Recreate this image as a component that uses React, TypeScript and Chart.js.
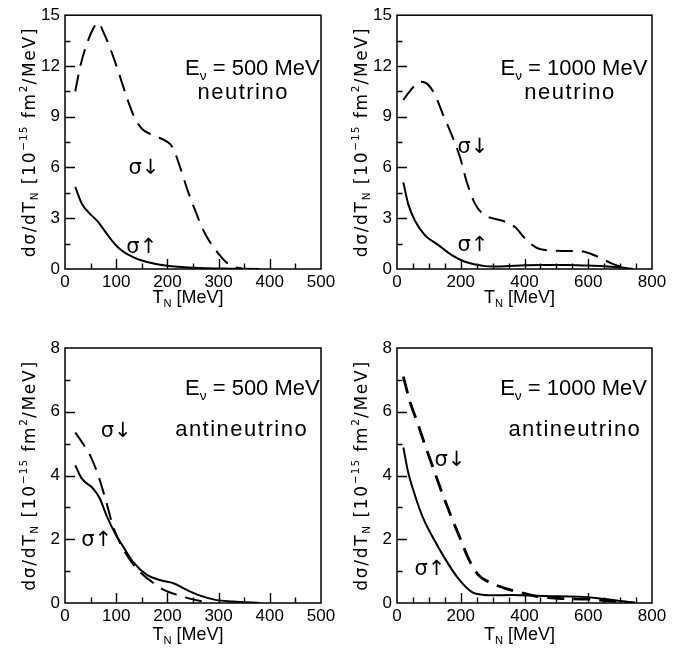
import React, { useEffect, useRef } from 'react';
import { Chart, registerables } from 'chart.js';

Chart.register(...registerables);

const FONT = "'Liberation Sans', Arial, Helvetica, sans-serif";
const WIDE_FONT = "'DejaVu Sans', 'Liberation Sans', Arial, sans-serif";

// ---------------- data (T_N in MeV, dσ/dT_N in 10^-15 fm^2/MeV) ----------------
// Neutrino, E = 500 MeV
const nu500DownT = [20, 30, 45, 60, 65, 75, 90, 105, 120, 135, 150, 165, 180, 195, 210, 225, 240, 255, 270, 285, 300, 315, 330, 345];
const nu500Down = [10.5, 12.0, 13.5, 14.45, 14.55, 14.0, 12.9, 11.6, 10.2, 9.0, 8.3, 8.0, 7.8, 7.6, 7.2, 6.0, 4.6, 3.4, 2.3, 1.5, 0.9, 0.4, 0.12, 0.03];
const nu500UpT = [20, 33, 46, 65, 81, 98, 114, 130, 147, 165, 180, 200, 220, 240, 260, 290, 320, 350, 380];
const nu500Up = [4.85, 3.85, 3.35, 2.77, 2.1, 1.45, 1.02, 0.75, 0.53, 0.38, 0.28, 0.19, 0.13, 0.09, 0.06, 0.03, 0.02, 0.01, 0.0];

// Neutrino, E = 1000 MeV
const nu1000DownT = [20, 40, 72, 93, 119, 145, 171, 198, 218, 245, 276, 300, 328, 370, 407, 443, 480, 520, 568, 600, 631, 673, 705, 736];
const nu1000Down = [10.0, 10.5, 11.07, 10.97, 10.3, 9.1, 7.95, 6.58, 5.2, 3.85, 3.16, 3.0, 2.87, 2.48, 1.7, 1.21, 1.1, 1.07, 1.07, 0.95, 0.72, 0.33, 0.12, 0.0];
const nu1000UpT = [20, 35, 56, 88, 130, 172, 213, 250, 276, 300, 340, 400, 460, 530, 600, 650, 700, 740];
const nu1000Up = [5.12, 3.85, 2.87, 1.99, 1.41, 0.82, 0.43, 0.25, 0.17, 0.15, 0.16, 0.22, 0.24, 0.24, 0.2, 0.16, 0.1, 0.0];

// Antineutrino, E = 500 MeV
const anu500DownT = [20, 35, 50, 65, 80, 95, 110, 125, 140, 155, 170, 185, 200, 220, 245, 265, 280];
const anu500Down = [5.35, 5.0, 4.6, 4.0, 3.2, 2.35, 1.8, 1.4, 1.08, 0.85, 0.66, 0.48, 0.36, 0.25, 0.13, 0.06, 0.02];
const anu500UpT = [20, 33, 55, 68, 81, 98, 114, 133, 160, 185, 212, 238, 264, 296, 328, 381];
const anu500Up = [4.32, 3.9, 3.59, 3.28, 2.75, 2.18, 1.76, 1.29, 0.88, 0.72, 0.62, 0.41, 0.23, 0.09, 0.05, 0.0];

// Antineutrino, E = 1000 MeV
const anu1000DownT = [20, 41, 62, 88, 114, 140, 172, 198, 224, 255, 286, 339, 380, 443, 516, 590, 673, 746];
const anu1000Down = [7.1, 6.3, 5.72, 4.95, 4.22, 3.49, 2.66, 2.03, 1.4, 0.88, 0.67, 0.46, 0.35, 0.2, 0.14, 0.12, 0.06, 0.0];
const anu1000UpT = [20, 35, 56, 82, 114, 150, 192, 234, 276, 300, 359, 464, 568, 631, 704, 746];
const anu1000Up = [4.88, 4.1, 3.39, 2.66, 2.03, 1.4, 0.77, 0.35, 0.25, 0.24, 0.25, 0.22, 0.2, 0.15, 0.06, 0.0];

// axis ranges
const xMaxLow = 500;
const xMaxHigh = 800;
const yMaxNu = 15;
const yMaxAnu = 8;

type Kind = 'n' | 'sub' | 'sup';
type Seg = [string, Kind];

const yTitle: Seg[] = [['dσ/dT', 'n'], ['N', 'sub'], [' [10', 'n'], ['−15', 'sup'], [' fm', 'n'], ['2', 'sup'], ['/MeV]', 'n']];
const xTitle: Seg[] = [['T', 'n'], ['N', 'sub'], [' [MeV]', 'n']];
const energyLabel = (e: string): Seg[] => [['E', 'n'], ['ν', 'sub'], [' = ' + e + ' MeV', 'n']];

type TextItem = { segs: Seg[]; T: number; v: number; size: number; spacing: number; font?: string };

type Panel = {
  left: number; top: number;
  pad: { l: number; t: number; r: number; b: number };
  xMax: number; xStep: number; xMinor: number; xMajor: number;
  yMax: number; yStep: number; yMinor: number; yMajor: number;
  downT: number[]; down: number[]; upT: number[]; up: number[];
  dashW: number;
  texts: TextItem[];
  xTitleDy: number;
};

const zip = (xs: number[], ys: number[]) => xs.map((x, i) => ({ x, y: ys[i] }));

const panels: Panel[] = [
  {
    left: 0, top: 0, pad: { l: 65, t: 13, r: 24, b: 56 },
    xMax: xMaxLow, xStep: 100, xMinor: 50, xMajor: 100,
    yMax: yMaxNu, yStep: 3, yMinor: 1.5, yMajor: 3,
    downT: nu500DownT, down: nu500Down, upT: nu500UpT, up: nu500Up, dashW: 2,
    texts: [
      { segs: energyLabel('500'), T: 366, v: 11.48, size: 22, spacing: 0 },
      { segs: [['neutrino', 'n']], T: 348, v: 10.02, size: 22, spacing: 1.5 },
      { segs: [['σ↓', 'n']], T: 154, v: 5.62, size: 21, spacing: 0, font: WIDE_FONT },
      { segs: [['σ↑', 'n']], T: 150, v: 0.94, size: 21, spacing: 0, font: WIDE_FONT },
    ],
    xTitleDy: 34,
  },
  {
    left: 345, top: 0, pad: { l: 52, t: 13, r: 38, b: 56 },
    xMax: xMaxHigh, xStep: 200, xMinor: 50, xMajor: 200,
    yMax: yMaxNu, yStep: 3, yMinor: 1.5, yMajor: 3,
    downT: nu1000DownT, down: nu1000Down, upT: nu1000UpT, up: nu1000Up, dashW: 2,
    texts: [
      { segs: energyLabel('1000'), T: 555, v: 11.48, size: 22, spacing: 0 },
      { segs: [['neutrino', 'n']], T: 543, v: 10.02, size: 22, spacing: 1.5 },
      { segs: [['σ↓', 'n']], T: 238, v: 6.86, size: 21, spacing: 0, font: WIDE_FONT },
      { segs: [['σ↑', 'n']], T: 238, v: 1.05, size: 21, spacing: 0, font: WIDE_FONT },
    ],
    xTitleDy: 34,
  },
  {
    left: 0, top: 325, pad: { l: 65, t: 23, r: 24, b: 47 },
    xMax: xMaxLow, xStep: 100, xMinor: 50, xMajor: 100,
    yMax: yMaxAnu, yStep: 2, yMinor: 1, yMajor: 2,
    downT: anu500DownT, down: anu500Down, upT: anu500UpT, up: anu500Up, dashW: 2,
    texts: [
      { segs: energyLabel('500'), T: 366, v: 6.53, size: 22, spacing: 0 },
      { segs: [['antineutrino', 'n']], T: 345, v: 5.24, size: 22, spacing: 1.5 },
      { segs: [['σ↓', 'n']], T: 100, v: 5.2, size: 21, spacing: 0, font: WIDE_FONT },
      { segs: [['σ↑', 'n']], T: 62, v: 1.79, size: 21, spacing: 0, font: WIDE_FONT },
    ],
    xTitleDy: 37,
  },
  {
    left: 345, top: 325, pad: { l: 52, t: 23, r: 38, b: 47 },
    xMax: xMaxHigh, xStep: 200, xMinor: 50, xMajor: 200,
    yMax: yMaxAnu, yStep: 2, yMinor: 1, yMajor: 2,
    downT: anu1000DownT, down: anu1000Down, upT: anu1000UpT, up: anu1000Up, dashW: 2.8,
    texts: [
      { segs: energyLabel('1000'), T: 554, v: 6.53, size: 22, spacing: 0 },
      { segs: [['antineutrino', 'n']], T: 558, v: 5.24, size: 22, spacing: 1.5 },
      { segs: [['σ↓', 'n']], T: 166, v: 4.3, size: 21, spacing: 0, font: WIDE_FONT },
      { segs: [['σ↑', 'n']], T: 103, v: 0.88, size: 21, spacing: 0, font: WIDE_FONT },
    ],
    xTitleDy: 37,
  },
];

function segMetrics(ctx: CanvasRenderingContext2D, segs: Seg[], size: number, spacing: number, font: string) {
  return segs.map(([t, k]) => {
    const s = k === 'n' ? size : size * 0.62;
    const sp = k === 'n' ? spacing : spacing * 0.6;
    ctx.font = `${s}px ${font}`;
    (ctx as any).letterSpacing = `${sp}px`;
    const w = ctx.measureText(t).width;
    return { t, k, s, sp, w };
  });
}

function drawRich(ctx: CanvasRenderingContext2D, segs: Seg[], size: number, x: number, y: number, spacing: number, font: string = FONT) {
  const parts = segMetrics(ctx, segs, size, spacing, font);
  const total = parts.reduce((a, p) => a + p.w, 0);
  let cx = x - total / 2;
  ctx.textAlign = 'left';
  ctx.textBaseline = 'alphabetic';
  for (const p of parts) {
    ctx.font = `${p.s}px ${font}`;
    (ctx as any).letterSpacing = `${p.sp}px`;
    const dy = p.k === 'sub' ? size * 0.22 : p.k === 'sup' ? -size * 0.42 : 0;
    ctx.fillText(p.t, cx, y + dy);
    cx += p.w;
  }
  (ctx as any).letterSpacing = '0px';
}

function makeDeco(p: Panel) {
  return {
    id: 'panelDeco',
    afterDraw(chart: any) {
      const { ctx, chartArea: a, scales } = chart;
      const x = scales.x;
      const y = scales.y;
      ctx.save();
      ctx.strokeStyle = '#000';
      ctx.fillStyle = '#000';
      ctx.lineWidth = 1.5;
      ctx.strokeRect(a.left, a.top, a.right - a.left, a.bottom - a.top);
      ctx.lineWidth = 1.4;
      ctx.beginPath();
      for (let v = p.xMinor; v < p.xMax - 1e-6; v += p.xMinor) {
        const px = Math.round(x.getPixelForValue(v)) + 0.5;
        const r = v / p.xMajor;
        const len = Math.abs(r - Math.round(r)) < 1e-6 ? 10 : 5.5;
        ctx.moveTo(px, a.bottom);
        ctx.lineTo(px, a.bottom - len);
      }
      for (let v = p.yMinor; v < p.yMax - 1e-6; v += p.yMinor) {
        const py = Math.round(y.getPixelForValue(v)) + 0.5;
        const r = v / p.yMajor;
        const len = Math.abs(r - Math.round(r)) < 1e-6 ? 10 : 5.5;
        ctx.moveTo(a.left, py);
        ctx.lineTo(a.left + len, py);
      }
      ctx.stroke();

      // annotations
      for (const t of p.texts) {
        drawRich(ctx, t.segs, t.size, x.getPixelForValue(t.T), y.getPixelForValue(t.v), t.spacing, t.font || FONT);
      }

      // x title
      drawRich(ctx, xTitle, 18, (a.left + a.right) / 2 - 5, a.bottom + p.xTitleDy, 0);

      // y title (rotated)
      const natural = segMetrics(ctx, yTitle, 17, 0, WIDE_FONT).reduce((s, q) => s + q.w, 0);
      const nChars = yTitle.reduce((s, q) => s + q[0].length, 0);
      const spacing = Math.max(0, (234 - natural) / nChars);
      ctx.save();
      ctx.translate(a.left - 30.5, (a.top + a.bottom) / 2);
      ctx.rotate(-Math.PI / 2);
      drawRich(ctx, yTitle, 17, 0, 0, spacing, WIDE_FONT);
      ctx.restore();
      ctx.restore();
    },
  };
}

function PanelChart({ p }: { p: Panel }) {
  const ref = useRef<HTMLCanvasElement | null>(null);
  useEffect(() => {
    if (!ref.current) return;
    const tickFont = { family: FONT, size: 17 };
    const chart = new Chart(ref.current, {
      type: 'line',
      data: {
        datasets: [
          {
            data: zip(p.downT, p.down),
            borderColor: '#000',
            borderWidth: p.dashW,
            borderDash: [17, 9],
            pointRadius: 0,
            fill: false,
            cubicInterpolationMode: 'monotone',
          },
          {
            data: zip(p.upT, p.up),
            borderColor: '#000',
            borderWidth: 2,
            pointRadius: 0,
            fill: false,
            cubicInterpolationMode: 'monotone',
          },
        ],
      },
      options: {
        animation: false,
        responsive: false,
        events: [],
        layout: { padding: { left: 0, top: p.pad.t, right: p.pad.r, bottom: 0 } },
        plugins: { legend: { display: false }, tooltip: { enabled: false } },
        scales: {
          x: {
            type: 'linear',
            min: 0,
            max: p.xMax,
            grid: { display: false, drawTicks: false },
            border: { display: false },
            ticks: { stepSize: p.xStep, font: tickFont, color: '#000', padding: 3, autoSkip: false, maxRotation: 0 },
            afterFit: (s: any) => { s.height = p.pad.b; },
          },
          y: {
            type: 'linear',
            min: 0,
            max: p.yMax,
            grid: { display: false, drawTicks: false },
            border: { display: false },
            ticks: { stepSize: p.yStep, font: tickFont, color: '#000', padding: 5, autoSkip: false },
            afterFit: (s: any) => { s.width = p.pad.l; },
          },
        },
      } as any,
      plugins: [makeDeco(p)],
    });
    return () => chart.destroy();
  }, [p]);
  return (
    <canvas
      ref={ref}
      width={345}
      height={325}
      style={{ position: 'absolute', left: p.left, top: p.top, width: 345, height: 325 }}
    />
  );
}

export default function App() {
  return (
    <div style={{ position: 'absolute', left: 0, top: 0, width: 690, height: 650, background: '#fff' }}>
      {panels.map((p, i) => (
        <PanelChart key={i} p={p} />
      ))}
    </div>
  );
}
